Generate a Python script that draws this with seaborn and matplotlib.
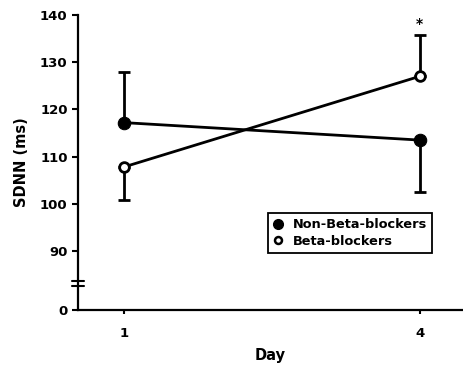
import numpy as np
import pandas as pd
import matplotlib
matplotlib.use("Agg")
import matplotlib.pyplot as plt
from matplotlib.lines import Line2D
import seaborn as sns

days = [1, 4]
non_beta = [117.2, 113.5]
beta = [107.8, 127.0]
non_beta_err_low = [0.0, 11.0]
non_beta_err_high = [10.8, 0.0]
beta_err_low = [7.1, 0.0]
beta_err_high = [0.0, 8.8]
yticks = [0, 90, 100, 110, 120, 130, 140]
ytick_labels = ["0", "90", "100", "110", "120", "130", "140"]
xticks = [1, 4]
labels = ["Non-Beta-blockers", "Beta-blockers"]

sns.set_style("ticks")
plt.rcParams['font.family'] = ['DejaVu Sans']
plt.rcParams['font.weight'] = 'bold'
plt.rcParams['text.color'] = 'black'
plt.rcParams['axes.labelcolor'] = 'black'
plt.rcParams['xtick.color'] = 'black'
plt.rcParams['ytick.color'] = 'black'

def fwd(y):
    y = np.asarray(y, dtype=float)
    return np.where(y >= 90, y, 77.5 + y * 12.5 / 90.0)

def inv(u):
    u = np.asarray(u, dtype=float)
    return np.where(u >= 90, u, (u - 77.5) * 90.0 / 12.5)

fig = plt.figure(figsize=(4.64, 3.77), dpi=100)
ax = fig.add_axes([78/464, 1-310/377, 385/464, 295/377])
ax.set_yscale('function', functions=(fwd, inv))

df = pd.DataFrame({"day": days, "nb": non_beta, "b": beta})

ax.errorbar(days, non_beta, yerr=[non_beta_err_low, non_beta_err_high], fmt='none',
            ecolor='black', elinewidth=2, capsize=4.5, capthick=2, zorder=2)
ax.errorbar(days, beta, yerr=[beta_err_low, beta_err_high], fmt='none',
            ecolor='black', elinewidth=2, capsize=4.5, capthick=2, zorder=2)

sns.lineplot(data=df, x="day", y="nb", ax=ax, color='black', lw=2, marker='o',
             markersize=9, markerfacecolor='black', markeredgecolor='black', zorder=3)
sns.lineplot(data=df, x="day", y="b", ax=ax, color='black', lw=2, marker='o',
             markersize=7, markerfacecolor='white', markeredgecolor='black',
             markeredgewidth=2, zorder=3)

ax.set_xlim(0.534, 4.44)
ax.set_ylim(0, 140)
ax.set_yticks(yticks)
ax.set_yticklabels(ytick_labels)
ax.yaxis.set_minor_locator(matplotlib.ticker.NullLocator())
ax.set_xticks(xticks)
ax.set_xticklabels([str(d) for d in xticks])

for s in ['top', 'right']:
    ax.spines[s].set_visible(False)
for s in ['left', 'bottom']:
    ax.spines[s].set_linewidth(1.6)
    ax.spines[s].set_color('black')

ax.tick_params(axis='y', direction='out', length=4.5, width=1.5, pad=3,
               labelsize=9.5, colors='black')
ax.tick_params(axis='x', direction='out', length=3, width=1.5, pad=9,
               labelsize=9.5, colors='black')
for lab in ax.get_xticklabels() + ax.get_yticklabels():
    lab.set_fontweight('bold')

ax.set_xlabel("Day", fontsize=10.5, fontweight='bold', labelpad=6, color='black')
ax.set_ylabel("SDNN (ms)", fontsize=10.5, fontweight='bold', labelpad=8, color='black')

# axis break marks
for yf in (0.098, 0.082):
    ax.plot([-0.016, 0.016], [yf, yf], transform=ax.transAxes, color='black',
            lw=1.5, clip_on=False, zorder=5)

ax.text(4, 138.0, "*", ha='center', va='center', fontsize=10, fontweight='bold',
        color='black')

handles = [Line2D([], [], ls='none', marker='o', markersize=7, markerfacecolor='black',
                  markeredgecolor='black'),
           Line2D([], [], ls='none', marker='o', markersize=5, markerfacecolor='white',
                  markeredgecolor='black', markeredgewidth=1.8)]
leg = ax.legend(handles, labels, loc='lower left', bbox_to_anchor=(0.494, 0.193),
                borderaxespad=0, fancybox=False, frameon=True, framealpha=1,
                handlelength=0.7, handletextpad=0.8, borderpad=0.4, labelspacing=0.3,
                prop={'size': 9.3, 'weight': 'bold'})
leg.get_frame().set_edgecolor('black')
leg.get_frame().set_linewidth(1.3)
for t in leg.get_texts():
    t.set_color('black')

fig.savefig("out.png", dpi=100)
